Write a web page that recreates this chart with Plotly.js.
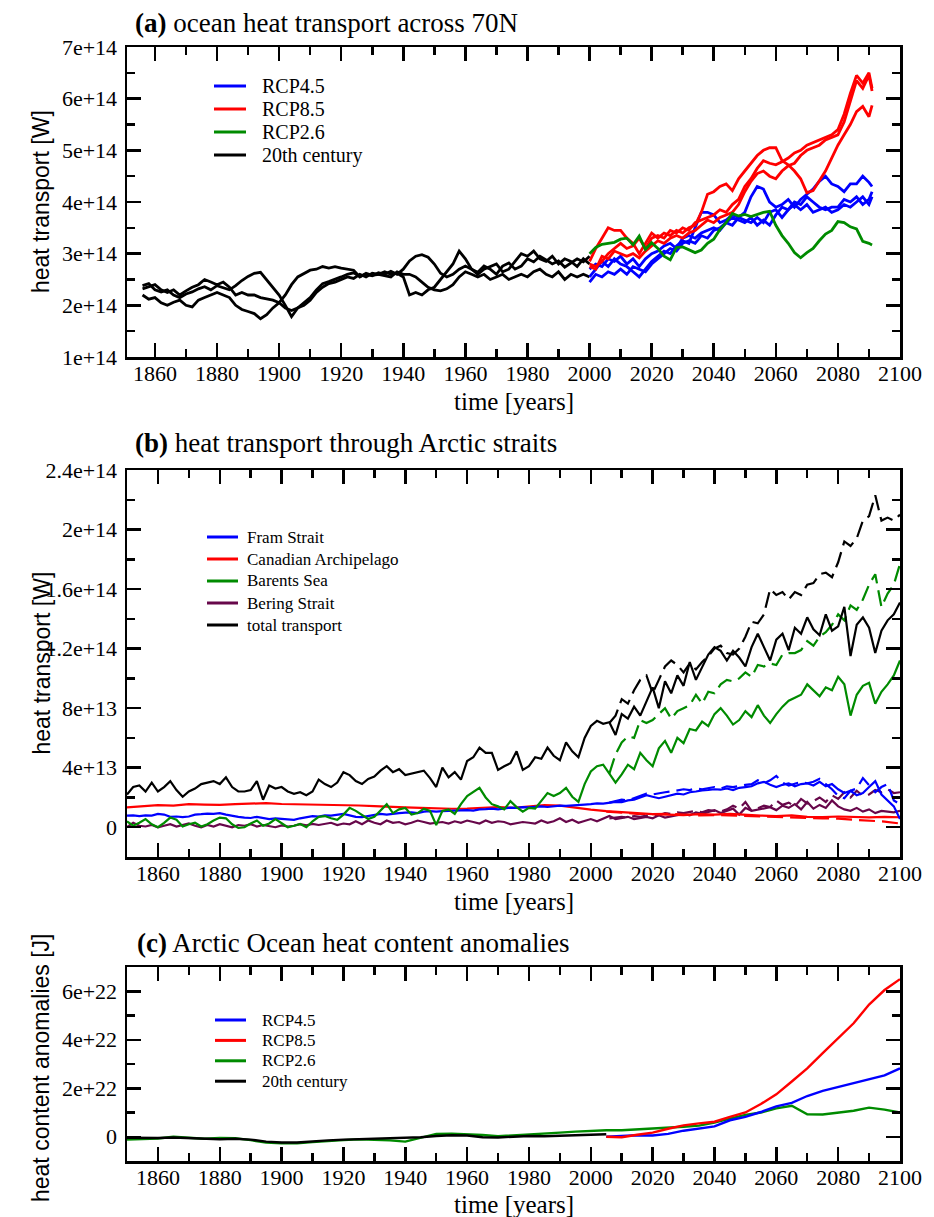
<!DOCTYPE html>
<html>
<head>
<meta charset="utf-8">
<script src="https://cdn.plot.ly/plotly-3.0.1.min.js"></script>
<style>
  html, body { margin: 0; padding: 0; background: #fff; }
  #chart { width: 934px; height: 1217px; }
</style>
</head>
<body>
<div id="chart"></div>
<script>
// ---------- year grids ----------
function yearGrid(start, step, n) {
  const out = [];
  for (let i = 0; i < n; i++) out.push(start + i * step);
  return out;
}

// ---------- (a) ocean heat transport across 70N, units of 1e14 W ----------
// historical members, every second year 1856-2000
const histA1 = [2.38,2.42,2.3,2.26,2.3,2.2,2.15,2.22,2.26,2.32, 2.36,2.3,2.38,2.34,2.3,2.38,2.48,2.56,2.62,2.64,
  2.5,2.35,2.2,2.0,1.78,1.95,2.05,2.15,2.3,2.42, 2.46,2.5,2.55,2.6,2.63,2.56,2.6,2.57,2.63,2.6,
  2.66,2.6,2.7,2.86,2.95,2.98,2.93,2.8,2.62,2.55, 2.6,2.7,2.76,2.7,2.64,2.76,2.7,2.6,2.76,2.82,
  2.7,2.76,2.9,2.84,2.95,2.88,2.8,2.86,2.74,2.82, 2.9,2.84,2.95];
const histA2 = [2.2,2.12,2.15,2.05,2.0,2.06,2.1,2.0,1.97,2.1, 2.15,2.2,2.25,2.2,2.15,2.0,1.92,1.88,1.84,1.74,
  1.82,1.95,2.05,2.2,2.4,2.55,2.62,2.68,2.7,2.75, 2.72,2.75,2.72,2.7,2.68,2.55,2.62,2.58,2.6,2.65,
  2.6,2.62,2.55,2.2,2.25,2.2,2.3,2.35,2.5,2.65, 2.8,3.05,2.9,2.7,2.6,2.7,2.75,2.8,2.65,2.7,
  2.85,3.0,2.95,3.05,2.9,2.85,2.95,2.8,2.9,2.85, 2.75,2.9,2.8];
const histA3 = [2.32,2.36,2.4,2.3,2.25,2.3,2.2,2.28,2.35,2.4, 2.5,2.45,2.4,2.45,2.35,2.2,2.25,2.2,2.2,2.15,
  2.12,2.1,2.05,1.95,1.9,1.95,2.0,2.1,2.25,2.35, 2.42,2.45,2.5,2.55,2.52,2.6,2.55,2.62,2.6,2.58,
  2.55,2.65,2.6,2.6,2.55,2.45,2.35,2.3,2.28,2.32, 2.4,2.55,2.65,2.6,2.55,2.6,2.5,2.55,2.6,2.5,
  2.55,2.6,2.55,2.65,2.7,2.6,2.55,2.65,2.5,2.6, 2.55,2.6,2.55];
// scenario members, every second year 2000-2090 plus 2091
const rcp45A1 = [2.55,2.7,2.85,2.75,2.9,2.8,2.75,2.65,2.55,2.7, 2.85,2.95,3.05,3.0,3.15,3.25,3.2,3.5,3.8,3.8,
  3.75,3.6,3.65,3.75,3.7,3.8,4.1,4.3,4.25,4.0, 3.9,3.95,4.05,3.9,4.05,4.15,4.25,4.4,4.5,4.35,
  4.3,4.2,4.35,4.35,4.5,4.38,4.3];
const rcp45A2 = [2.7,2.8,2.75,2.9,2.85,2.95,2.8,2.9,2.75,2.9, 3.0,3.05,3.15,3.2,3.1,3.3,3.35,3.3,3.4,3.45,
  3.5,3.45,3.6,3.7,3.65,3.6,3.7,3.55,3.65,3.55, 3.75,3.9,3.85,4.0,3.95,4.1,4.0,3.9,3.85,3.9,
  3.9,4.05,4.0,4.1,3.95,4.05,4.2];
const rcp45A3 = [2.45,2.6,2.55,2.65,2.6,2.7,2.6,2.75,2.7,2.65, 2.8,2.9,3.0,3.1,3.05,3.2,3.25,3.2,3.35,3.3,
  3.45,3.5,3.6,3.55,3.7,3.65,3.6,3.7,3.6,3.8, 3.85,3.7,3.85,3.95,3.85,3.95,3.8,3.85,3.9,3.8,
  3.85,3.95,3.9,4.0,4.1,3.95,4.1];
const rcp85A1 = [2.85,3.1,3.3,3.5,3.45,3.45,3.3,3.2,3.0,3.2, 3.4,3.3,3.4,3.35,3.45,3.4,3.5,3.55,3.8,4.15,
  4.2,4.3,4.35,4.22,4.45,4.6,4.75,4.9,5.0,5.05, 5.05,4.8,4.72,4.6,4.45,4.18,4.22,4.4,4.6,4.85,
  5.1,5.3,5.5,5.75,5.85,5.65,5.87];
const rcp85A2 = [2.8,2.75,2.85,3.0,3.1,3.2,3.1,3.15,3.3,3.1, 3.3,3.35,3.3,3.45,3.4,3.5,3.45,3.6,3.65,3.7,
  3.75,3.85,3.8,3.95,4.05,4.3,4.45,4.65,4.8,4.75, 4.72,4.78,4.85,4.95,5.0,5.1,5.15,5.2,5.25,5.3,
  5.4,5.7,6.1,6.45,6.3,6.5,6.2];
const rcp85A3 = [2.75,2.7,2.95,2.9,3.05,3.0,2.95,3.0,2.92,3.05, 3.15,3.25,3.2,3.3,3.35,3.3,3.4,3.45,3.55,3.65,
  3.6,3.7,3.75,3.8,3.95,4.2,4.4,4.55,4.6,4.5, 4.45,4.6,4.7,4.75,4.9,5.0,5.05,5.1,5.2,5.25,
  5.3,5.55,5.95,6.35,6.2,6.45,6.15];
const rcp26A = [3.0,3.12,3.18,3.2,3.22,3.28,3.3,3.17,3.34,3.08, 3.21,3.1,2.95,2.88,3.12,3.13,3.08,3.02,3.07,3.2,
  3.28,3.47,3.6,3.78,3.73,3.76,3.72,3.76,3.8,3.82, 3.55,3.35,3.2,3.02,2.92,3.02,3.1,3.25,3.38,3.45,
  3.62,3.6,3.52,3.48,3.24,3.2,3.17];

// ---------- (b) heat transport through Arctic straits, units of 1e13 W ----------
// full runs, every second year 1850-2100
const totalSolid = [2.2,2.7,2.8,2.4,3.0,2.4,2.7,3.1,2.5,2.05,2.4,2.6,2.9,3.0,3.1,2.9,3.35,2.7,2.4,2.4,2.5,3.1,1.85,2.8,2.6,2.7,
  2.4,2.25,2.35,2.15,2.4,3.2,2.9,2.7,3.0,3.7,3.5,3.1,2.9,3.25,3.4,3.8,4.1,3.7,3.9,3.5,3.6,3.7,3.8,3.3,2.7,
  4.0,3.35,3.7,3.2,4.45,4.7,5.35,5.0,5.0,3.85,4.1,4.3,5.1,3.85,4.1,4.7,4.6,5.35,4.8,4.5,5.7,5.1,4.7,6.0,6.8,
  7.15,6.95,7.05,6.2,7.6,7.3,8.1,7.5,8.5,9.4,8.0,9.8,9.0,10.2,9.5,11.1,9.9,10.8,11.6,12.1,11.85,11.2,11.85,11.4,10.8,
  12.1,13.0,12.1,11.2,12.6,13.0,11.9,13.4,13.0,14.1,13.3,12.9,14.3,13.2,13.5,14.8,11.5,13.6,14.1,13.4,11.7,13.2,13.9,14.3,15.1];
const barentsSolid = [0.4,0.1,0.3,0.55,0.2,0.0,0.3,0.65,0.5,0.05,0.2,0.3,0.05,0.2,0.45,0.65,0.6,0.2,-0.05,0.0,0.25,0.45,0.1,0.25,0.55,0.3,
  0.0,0.1,0.22,0.0,0.4,0.7,0.75,0.6,0.5,0.85,1.3,1.1,0.85,0.55,0.7,1.1,1.55,0.95,1.2,1.3,0.85,0.95,1.25,1.1,0.15,
  1.1,1.2,0.9,1.55,2.1,2.4,2.65,2.0,1.55,1.4,1.2,1.75,1.35,1.05,1.3,1.25,1.75,2.3,2.1,2.3,2.65,2.05,1.7,2.9,3.75,
  4.1,4.2,3.6,3.0,3.55,4.2,3.9,5.0,4.5,4.1,5.3,5.8,5.0,6.0,5.65,6.6,6.5,7.1,6.8,7.6,8.0,7.5,6.9,7.2,7.8,
  7.4,8.2,7.5,7.0,7.6,8.1,8.5,8.7,8.9,9.6,9.2,8.8,9.4,9.2,10.1,9.6,7.5,8.9,9.5,9.7,8.3,9.1,9.6,10.2,11.2];
const framSolid = [0.78,0.8,0.75,0.8,0.78,0.9,0.85,0.7,0.72,0.68,0.72,0.85,0.88,0.92,0.9,0.95,0.85,0.8,0.7,0.65,0.62,0.7,0.6,0.55,0.6,0.58,
  0.55,0.5,0.6,0.65,0.75,0.72,0.8,0.78,0.85,0.9,0.8,0.7,0.68,0.75,0.82,0.9,0.85,0.92,0.95,0.98,1.0,0.95,1.05,1.08,1.05,
  1.08,1.1,1.12,1.1,1.15,1.12,1.2,1.22,1.25,1.2,1.28,1.32,1.3,1.35,1.34,1.38,1.4,1.36,1.42,1.45,1.44,1.48,1.5,1.52,1.55,
  1.6,1.58,1.65,1.7,1.68,1.8,1.85,2.0,2.15,2.05,1.95,2.05,2.15,2.25,2.2,2.35,2.4,2.48,2.5,2.55,2.52,2.6,2.5,2.65,2.7,
  2.75,2.95,3.05,2.85,2.7,2.85,2.95,2.75,2.9,2.95,2.8,3.05,2.75,2.9,2.55,2.3,2.45,2.15,2.3,2.7,3.1,2.2,1.8,1.4,0.55];
const beringSolid = [0.0,0.3,0.1,0.05,0.15,0.0,0.1,0.2,0.05,0.15,0.25,0.1,0.0,0.15,0.05,0.2,0.1,0.0,0.15,0.1,0.2,0.05,0.15,0.1,0.0,0.12,
  0.05,0.1,0.2,0.12,0.22,0.15,0.25,0.3,0.15,0.25,0.2,0.4,0.2,0.45,0.3,0.2,0.45,0.3,0.35,0.2,0.3,0.45,0.35,0.25,0.3,
  0.35,0.25,0.4,0.3,0.45,0.35,0.25,0.45,0.3,0.4,0.35,0.2,0.25,0.35,0.3,0.25,0.45,0.3,0.4,0.6,0.35,0.5,0.3,0.45,0.55,
  0.4,0.6,0.75,0.55,0.6,0.7,0.55,0.65,0.7,0.6,0.8,0.65,0.75,0.85,0.9,0.8,1.0,0.9,1.05,1.15,0.95,1.1,1.25,0.85,1.3,
  1.1,1.2,1.25,1.35,1.15,1.45,1.3,1.55,1.2,1.7,1.25,1.5,1.3,1.8,1.4,1.2,1.1,1.3,1.05,1.2,0.95,1.1,1.05,1.0,1.1];
// Canadian Archipelago, every fifth year 1850-2100
const canadianSolid = [1.34,1.4,1.48,1.45,1.55,1.52,1.5,1.55,1.6,1.62, 1.56,1.55,1.52,1.48,1.5,1.46,1.42,1.36,1.34,1.3,
  1.26,1.24,1.25,1.32,1.36,1.3,1.38,1.48,1.45,1.3, 1.18,1.08,1.0,0.92,0.88,0.85,0.82,0.88,0.85,0.9,
  0.82,0.78,0.75,0.8,0.7,0.68,0.72,0.7,0.66,0.7, 0.67];
// second scenario, every second year 2006-2100
const totalDashed = [7.0,7.5,8.6,8.3,9.2,9.9,10.2,9.0,9.9,10.8, 11.2,10.9,10.4,11.0,10.6,11.1,11.5,12.0,12.2,11.7,
  11.6,12.0,12.8,13.8,13.7,14.3,16.0,15.6,15.8,15.3, 15.8,15.6,16.3,16.4,17.0,17.1,16.8,17.8,19.2,18.9,
  19.4,20.6,20.9,22.3,20.6,20.8,20.6,21.0];
const barentsDashed = [3.6,4.9,5.7,6.1,6.0,7.2,7.0,7.2,7.6,8.0, 7.3,7.8,8.0,8.2,8.9,8.3,9.1,9.0,9.6,9.9,
  9.8,10.0,10.4,10.1,10.9,10.8,11.0,10.9,11.6,11.7, 11.7,11.9,12.5,12.2,12.8,13.1,13.6,14.3,13.9,14.9,
  14.6,15.3,16.3,17.0,14.8,15.7,16.3,17.7];
const framDashed = [1.65,1.75,1.85,1.8,1.95,2.1,2.25,2.2,2.3,2.35, 2.4,2.5,2.55,2.5,2.6,2.55,2.65,2.7,2.6,2.75,
  2.7,2.8,2.85,2.9,3.15,2.95,3.15,3.45,3.0,2.8, 2.9,3.05,2.95,3.05,3.25,2.9,2.55,2.1,1.95,2.45,
  2.6,3.3,2.8,2.35,2.7,2.9,1.8,1.55];
const beringDashed = [0.6,0.65,0.7,0.65,0.75,0.7,0.8,0.85,0.8,0.95, 0.9,1.0,0.95,1.05,1.1,1.0,1.15,1.1,1.05,1.2,
  1.45,1.25,1.7,1.1,1.3,1.45,1.35,1.8,1.5,1.65, 1.4,1.9,1.6,1.75,2.0,1.7,2.15,1.9,2.35,2.0,
  2.45,2.1,2.2,2.5,2.35,2.55,2.3,2.35];
// Canadian Archipelago second scenario, every fifth year 2005-2100
const canadianDashed = [1.05,0.95,0.9,0.88,0.9,0.85,0.8,0.82,0.78,0.75, 0.72,0.7,0.65,0.62,0.6,0.58,0.5,0.45,0.38,0.25];

// ---------- (c) Arctic Ocean heat content anomalies, units of 1e22 J ----------
const hcHist  = [-0.04,-0.06,-0.05,-0.03,-0.06,-0.1,-0.1,-0.08,-0.12,-0.2, -0.24,-0.24,-0.18,-0.15,-0.12,-0.1,-0.07,-0.05,-0.04,-0.02,
  0.03,0.06,0.05,-0.02,-0.03,0.0,0.03,0.02,0.03,0.05, 0.08,0.1];                        // 1850-2005
const hcRcp26 = [-0.12,-0.1,-0.07,0.0,-0.05,-0.08,-0.05,-0.06,-0.14,-0.24, -0.27,-0.27,-0.22,-0.17,-0.14,-0.11,-0.12,-0.15,-0.2,-0.05,
  0.12,0.13,0.11,0.07,0.02,0.05,0.1,0.13,0.17,0.21, 0.25,0.27,0.27,0.3,0.32,0.35,0.41,0.46,0.58,0.75,
  0.9,1.0,1.17,1.28,0.93,0.92,0.98,1.07,1.2,1.12, 1.0];                                  // 1850-2100
const hcRcp45 = [0.0,0.03,0.06,0.05,0.12,0.25,0.33,0.43,0.68,0.82, 1.02,1.25,1.4,1.68,1.89,2.05,2.18,2.36,2.53,2.82];   // 2005-2100
const hcRcp85 = [0.0,-0.02,0.08,0.17,0.33,0.47,0.55,0.62,0.82,1.0, 1.35,1.75,2.28,2.82,3.45,4.05,4.68,5.45,6.05,6.5];  // 2005-2100

// ---------- tick labels ----------
const yearTicks  = [1860,1880,1900,1920,1940,1960,1980,2000,2020,2040,2060,2080,2100];
const yearLabels = ['1860','1880','1900','1920','1940','1960','1980','2000','2020','2040','2060','2080','2100'];
const aTicks  = [1e14,2e14,3e14,4e14,5e14,6e14,7e14];
const aLabels = ['1e+14','2e+14','3e+14','4e+14','5e+14','6e+14','7e+14'];
const bTicks  = [0,4e13,8e13,1.2e14,1.6e14,2e14,2.4e14];
const bLabels = ['0','4e+13','8e+13','1.2e+14','1.6e+14','2e+14','2.4e+14'];
const cTicks  = [0,2e22,4e22,6e22];
const cLabels = ['0','2e+22','4e+22','6e+22'];

// ---------- styling ----------
const BLUE = '#0000ff', RED = '#ff0000', GREEN = '#008b00', PURPLE = '#67074a', BLACK = '#000000';
const SERIF = 'Liberation Serif';
const SANS  = 'Liberation Sans';
const W = 934, H = 1217;
const fx = p => p / W;          // pixel column -> paper x
const fy = p => 1 - p / H;      // pixel row -> paper y

function scaled(vals, unit) { return vals.map(v => v * unit); }

function series(xa, ya, xs, ys, color, width, dash) {
  return {
    type: 'scatter', mode: 'lines', x: xs, y: ys, xaxis: xa, yaxis: ya,
    line: { color: color, width: width, dash: dash || 'solid' },
    hoverinfo: 'skip', showlegend: false
  };
}

const traces = [];

// (a)
const histYearsA = yearGrid(1856, 2, histA1.length);
const rcpYearsA = yearGrid(2000, 2, rcp26A.length - 1).concat([2091]);
[histA1, histA2, histA3].forEach(v => traces.push(series('x', 'y', histYearsA, scaled(v, 1e14), BLACK, 2.8)));
[rcp45A1, rcp45A2, rcp45A3].forEach(v => traces.push(series('x', 'y', rcpYearsA, scaled(v, 1e14), BLUE, 2.8)));
[rcp85A1, rcp85A2, rcp85A3].forEach(v => traces.push(series('x', 'y', rcpYearsA, scaled(v, 1e14), RED, 2.8)));
traces.push(series('x', 'y', rcpYearsA, scaled(rcp26A, 1e14), GREEN, 2.8));

// (b)
const yearsB2 = yearGrid(1850, 2, totalSolid.length);
const yearsB5 = yearGrid(1850, 5, canadianSolid.length);
const dashYears2 = yearGrid(2006, 2, totalDashed.length);
const dashYears5 = yearGrid(2005, 5, canadianDashed.length);
const DASH = '16px,7px';
traces.push(series('x2', 'y2', yearsB2, scaled(beringSolid, 1e13), PURPLE, 2.2));
traces.push(series('x2', 'y2', dashYears2, scaled(beringDashed, 1e13), PURPLE, 2.2, DASH));
traces.push(series('x2', 'y2', yearsB5, scaled(canadianSolid, 1e13), RED, 2.2));
traces.push(series('x2', 'y2', dashYears5, scaled(canadianDashed, 1e13), RED, 2.2, DASH));
traces.push(series('x2', 'y2', yearsB2, scaled(framSolid, 1e13), BLUE, 2.2));
traces.push(series('x2', 'y2', dashYears2, scaled(framDashed, 1e13), BLUE, 2.2, DASH));
traces.push(series('x2', 'y2', yearsB2, scaled(barentsSolid, 1e13), GREEN, 2.2));
traces.push(series('x2', 'y2', dashYears2, scaled(barentsDashed, 1e13), GREEN, 2.2, DASH));
traces.push(series('x2', 'y2', yearsB2, scaled(totalSolid, 1e13), BLACK, 2.2));
traces.push(series('x2', 'y2', dashYears2, scaled(totalDashed, 1e13), BLACK, 2.2, DASH));

// (c)
traces.push(series('x3', 'y3', yearGrid(1850, 5, hcRcp26.length), scaled(hcRcp26, 1e22), GREEN, 2.4));
traces.push(series('x3', 'y3', yearGrid(1850, 5, hcHist.length), scaled(hcHist, 1e22), BLACK, 2.4));
traces.push(series('x3', 'y3', yearGrid(2005, 5, hcRcp45.length), scaled(hcRcp45, 1e22), BLUE, 2.4));
traces.push(series('x3', 'y3', yearGrid(2005, 5, hcRcp85.length), scaled(hcRcp85, 1e22), RED, 2.4));

// ---------- axes ----------
function minorBetween(lo, hi, step, skip) {
  const out = [];
  for (let v = lo; v <= hi + step * 1e-6; v += step) {
    if (!skip.some(s => Math.abs(s - v) < step * 1e-3)) out.push(v);
  }
  return out;
}
const tickFont = { family: SERIF, size: 22, color: BLACK };
function frameAxis(extra, minorVals) {
  return Object.assign({
    showline: true, linecolor: BLACK, linewidth: 2.5, mirror: 'allticks',
    ticks: 'inside', ticklen: 14, tickwidth: 2.5, tickcolor: BLACK,
    showgrid: false, zeroline: false, tickmode: 'array', fixedrange: true,
    showticklabels: true,
    tickfont: { family: tickFont.family, size: tickFont.size, color: tickFont.color },
    minor: { tickmode: 'array', tickvals: minorVals, ticks: 'inside', ticklen: 8, tickwidth: 2.5, tickcolor: BLACK, showgrid: false }
  }, extra);
}
const xDomain = [fx(127), fx(900)];
const minorYears = minorBetween(1850, 2100, 10, yearTicks);
const X_STANDOFF = -5, Y_STANDOFF = 3;

const layout = {
  width: W, height: H, autosize: false,
  margin: { l: 0, r: 0, t: 0, b: 0 },
  paper_bgcolor: '#fff', plot_bgcolor: '#fff',
  font: { family: SERIF, size: 22, color: BLACK },
  showlegend: false,
  xaxis:  frameAxis({ domain: xDomain, anchor: 'y',  range: [1851, 2100], tickvals: yearTicks, ticktext: yearLabels, ticklabelstandoff: X_STANDOFF }, minorYears),
  xaxis2: frameAxis({ domain: xDomain, anchor: 'y2', range: [1850, 2100], tickvals: yearTicks, ticktext: yearLabels, ticklabelstandoff: X_STANDOFF }, minorYears),
  xaxis3: frameAxis({ domain: xDomain, anchor: 'y3', range: [1850, 2100], tickvals: yearTicks, ticktext: yearLabels, ticklabelstandoff: X_STANDOFF }, minorYears),
  yaxis:  frameAxis({ domain: [fy(357), fy(47)],  anchor: 'x',  range: [1e14, 7e14], tickvals: aTicks, ticktext: aLabels, ticklabelstandoff: Y_STANDOFF },
                    minorBetween(1.5e14, 6.5e14, 1e14, [])),
  yaxis2: frameAxis({ domain: [fy(857), fy(470)], anchor: 'x2', range: [-2e13, 2.4e14], tickvals: bTicks, ticktext: bLabels, ticklabelstandoff: Y_STANDOFF },
                    minorBetween(2e13, 2.2e14, 4e13, [])),
  yaxis3: frameAxis({ domain: [fy(1161), fy(967)], anchor: 'x3', range: [-1e22, 7e22], tickvals: cTicks, ticktext: cLabels, ticklabelstandoff: Y_STANDOFF },
                    minorBetween(1e22, 5e22, 2e22, [])),
  annotations: [],
  shapes: []
};

function label(text, xp, yp, size, family, opts) {
  layout.annotations.push(Object.assign({
    text: text, x: fx(xp), y: fy(yp), xref: 'paper', yref: 'paper',
    showarrow: false, xanchor: 'left', yanchor: 'middle',
    font: { family: family, size: size, color: BLACK }
  }, opts || {}));
}

// panel titles
label('<b>(a)</b> ocean heat transport across 70N', 133, 23, 27, SERIF);
label('<b>(b)</b> heat transport through Arctic straits', 133, 443, 27, SERIF);
label('<b>(c)</b> Arctic Ocean heat content anomalies', 135, 943, 27, SERIF);

// axis titles
const plotMidX = (127 + 900) / 2;
label('time [years]', plotMidX, 401, 25, SERIF, { xanchor: 'center' });
label('time [years]', plotMidX, 901, 25, SERIF, { xanchor: 'center' });
label('time [years]', plotMidX, 1204, 25, SERIF, { xanchor: 'center' });
label('heat transport [W]', 41, (47 + 357) / 2, 23, SANS, { xanchor: 'center', textangle: -90 });
label('heat transport [W]', 41, (470 + 857) / 2, 23, SANS, { xanchor: 'center', textangle: -90 });
label('heat content anomalies [J]', 41, 1068, 23, SANS, { xanchor: 'center', textangle: -90 });

// legends: sample line plus name
function legendEntry(name, color, x0, x1, textX, yp, size) {
  layout.shapes.push({
    type: 'line', xref: 'paper', yref: 'paper', layer: 'above',
    x0: fx(x0), x1: fx(x1), y0: fy(yp), y1: fy(yp),
    line: { color: color, width: 3 }
  });
  label(name, textX, yp, size, SERIF);
}
const legendA = [['RCP4.5', BLUE], ['RCP8.5', RED], ['RCP2.6', GREEN], ['20th century', BLACK]];
legendA.forEach((e, i) => legendEntry(e[0], e[1], 214, 246, 260, 86 + i * 23, 20));

const legendB = [['Fram Strait', BLUE], ['Canadian Archipelago', RED], ['Barents Sea', GREEN], ['Bering Strait', PURPLE], ['total transport', BLACK]];
legendB.forEach((e, i) => legendEntry(e[0], e[1], 207, 238, 245, 537 + i * 22, 17));

legendA.forEach((e, i) => legendEntry(e[0], e[1], 215, 246, 260, 1020 + i * 20.4, 17));

Plotly.newPlot('chart', traces, layout, { staticPlot: true, displayModeBar: false });
</script>
</body>
</html>
